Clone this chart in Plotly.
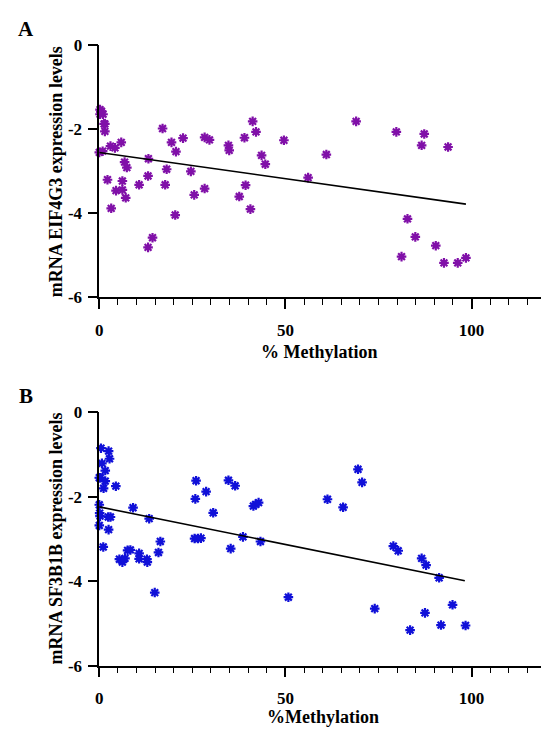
import plotly.graph_objects as go

# Panel A: EIF4G3
a_x = [0.2, 0.6, 0.2, 1.0, 1.3, 1.5, 1.5, 0.0, 0.9,
       3.0, 4.2, 5.9, 6.8, 7.4, 2.2, 4.5, 6.2, 6.2, 7.1, 3.2,
       10.7, 13.1, 13.2, 14.3, 13.1, 17.0, 17.7, 18.1, 19.4, 20.6, 20.4,
       22.5, 24.6, 25.5, 28.3, 28.3, 29.6, 34.7, 34.9, 37.6, 39.0, 39.3,
       40.6, 41.2, 42.1, 43.6, 44.6, 49.6, 56.1, 61.0, 69.0, 79.8, 87.3,
       86.6, 93.7, 82.8, 84.9, 90.4, 81.2, 92.6, 96.3, 98.5]
a_y = [-1.53, -1.57, -1.64, -1.64, -1.87, -1.87, -2.05, -2.55, -2.52,
       -2.40, -2.44, -2.31, -2.78, -2.91, -3.20, -3.46, -3.23, -3.44, -3.63, -3.88,
       -3.32, -3.11, -2.70, -4.58, -4.81, -1.98, -3.32, -2.95, -2.31, -2.53, -4.04,
       -2.21, -3.00, -3.56, -3.41, -2.19, -2.25, -2.38, -2.50, -3.60, -2.20, -3.33,
       -3.90, -1.81, -2.06, -2.62, -2.83, -2.26, -3.15, -2.60, -1.81, -2.06, -2.11,
       -2.38, -2.42, -4.13, -4.56, -4.77, -5.03, -5.18, -5.18, -5.06]
a_fit_x = [0.0, 98.5]
a_fit_y = [-2.55, -3.78]

# Panel B: SF3B1B
b_x = [0.45, 2.5, 2.75, 0.7, 1.6, 0.0, 0.3, 1.6, 1.15, 4.45,
       0.0, 0.1, 0.2, 2.4, 3.0, 0.0, 2.5, 1.07, 9.07, 13.4,
       5.4, 6.2, 6.9, 7.6, 8.35, 10.7, 10.7, 12.8, 12.9, 15.9, 16.4, 14.9,
       26.0, 25.8, 28.7, 30.6, 25.6, 26.5, 27.3, 34.7, 36.5, 35.3, 38.6,
       41.4, 42.0, 42.8, 43.3, 50.8, 61.3, 65.5, 69.5, 70.6, 74.0, 79.0,
       80.3, 86.6, 87.8, 91.3, 83.5, 87.5, 91.8, 94.9, 98.4]
b_y = [-0.85, -0.92, -1.10, -1.21, -1.38, -1.55, -1.55, -1.63, -1.80, -1.75,
       -2.19, -2.39, -2.46, -2.48, -2.48, -2.68, -2.78, -3.19, -2.26, -2.52,
       -3.48, -3.55, -3.46, -3.27, -3.26, -3.34, -3.47, -3.48, -3.55, -3.32, -3.06, -4.27,
       -1.62, -2.05, -1.88, -2.38, -2.99, -2.99, -2.98, -1.61, -1.74, -3.23, -2.95,
       -2.22, -2.18, -2.14, -3.06, -4.38, -2.06, -2.25, -1.35, -1.66, -4.65, -3.17,
       -3.28, -3.46, -3.62, -3.92, -5.16, -4.75, -5.04, -4.56, -5.05]
b_fit_x = [0.0, 98.2]
b_fit_y = [-2.24, -3.99]

y_ticks = [0, -2, -4, -6]
y_tick_text = ["0", "-2", "-4", "-6"]
x_ticks = [0, 50, 100]
x_tick_text = ["0", "50", "100"]

W, H = 541, 736
FONT = "Liberation Serif"

fig = go.Figure()

def add_panel(xs, ys, fx, fy, color, xa, ya):
    fig.add_trace(go.Scatter(
        x=xs, y=ys, mode="markers", xaxis=xa, yaxis=ya, cliponaxis=False,
        marker=dict(symbol="asterisk-open", size=8, color=color,
                    line=dict(color=color, width=2.2)),
        showlegend=False))
    fig.add_trace(go.Scatter(
        x=fx, y=fy, mode="lines", xaxis=xa, yaxis=ya, cliponaxis=False,
        line=dict(color="black", width=1.6), showlegend=False))

add_panel(a_x, a_y, a_fit_x, a_fit_y, "#8010A8", "x", "y")
add_panel(b_x, b_y, b_fit_x, b_fit_y, "#1010D8", "x2", "y2")

x0px = 96.0
pxu = 3.75
xmax = (W - x0px) / pxu

def bold(lst):
    return ["<b>%s</b>" % s for s in lst]

def xaxis_cfg(anchor):
    return dict(
        domain=[x0px / W, 1.0], range=[0, xmax], anchor=anchor,
        showline=True, linecolor="black", linewidth=1.5,
        showgrid=False, zeroline=False,
        ticks="outside", ticklen=10, tickwidth=1.5, tickcolor="black",
        tickvals=x_ticks, ticktext=bold(x_tick_text), ticklabelstandoff=6,
        tickfont=dict(family=FONT, size=17, color="black"),
        minor=dict(dtick=5, tick0=0, ticks="outside", ticklen=6,
                   tickwidth=1.3, tickcolor="black", showgrid=False),
    )

def yaxis_cfg(anchor, top_px, bot_px):
    return dict(
        domain=[(H - bot_px) / H, (H - top_px) / H], range=[-6, 0], anchor=anchor,
        showline=True, linecolor="black", linewidth=1.5,
        showgrid=False, zeroline=False,
        ticks="outside", ticklen=10, tickwidth=1.5, tickcolor="black",
        tickvals=y_ticks, ticktext=bold(y_tick_text), ticklabelstandoff=2,
        tickfont=dict(family=FONT, size=17, color="black"),
    )

fig.update_layout(
    width=W, height=H,
    margin=dict(l=0, r=0, t=0, b=0),
    paper_bgcolor="white", plot_bgcolor="white",
    xaxis=xaxis_cfg("y"),
    yaxis=yaxis_cfg("x", 37.3, 296.0),
    xaxis2=xaxis_cfg("y2"),
    yaxis2=yaxis_cfg("x2", 414.0, 674.0),
)

def ann(text, xpx, ypx, size, angle=0):
    fig.add_annotation(
        text="<b>%s</b>" % text, x=xpx / W, y=1 - ypx / H, xref="paper", yref="paper",
        showarrow=False, textangle=angle, xanchor="center", yanchor="middle",
        font=dict(family=FONT, size=size, color="black"))

ann("A", 22, 21, 21)
ann("B", 22, 397, 21)
ann("mRNA EIF4G3 expression levels", 52, 167, 18, -90)
ann("mRNA SF3B1B expression levels", 52, 544, 18, -90)
ann("% Methylation", 318, 352, 18)
ann("%Methylation", 321, 727, 18)

fig.write_html("out.html", config={"displayModeBar": False})

# remove the browser's default page margin so the figure sits at (0, 0)
with open("out.html", "r", encoding="utf-8") as f:
    html = f.read()
html = html.replace("<head>", "<head><style>html,body{margin:0;padding:0;}</style>", 1)
with open("out.html", "w", encoding="utf-8") as f:
    f.write(html)
